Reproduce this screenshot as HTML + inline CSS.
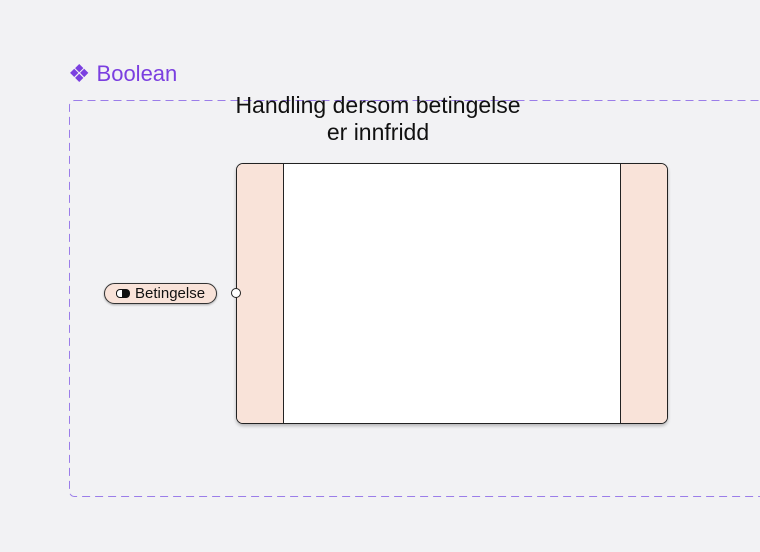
<!DOCTYPE html>
<html><head><meta charset="utf-8"><style>
body{margin:0;width:760px;height:552px;background:#f2f2f4;position:relative;overflow:hidden;font-family:"Liberation Sans",sans-serif}
.a{position:absolute}
</style></head><body>
<div class="a" style="left:68px;top:58px;font-size:22px;color:#7b3fe0;white-space:nowrap"><span style="font-size:25px;position:relative;top:1px">❖</span> Boolean</div>
<svg class="a" style="left:0;top:0" width="760" height="552"><rect x="69.5" y="100.5" width="740" height="396" rx="5" fill="none" stroke="#9b7de9" stroke-width="1" stroke-dasharray="8,5"/></svg>
<div class="a" style="left:178px;top:92px;width:400px;text-align:center;font-size:23px;line-height:27px;color:#111">Handling dersom betingelse<br>er innfridd</div>
<div class="a" style="left:236px;top:163px;width:430px;height:259px;border:1px solid #222;border-radius:7px;background:#fff;box-shadow:0 2px 3px rgba(0,0,0,.25);overflow:hidden">
<div class="a" style="left:0;top:0;width:46px;height:100%;background:#f9e3d9;border-right:1px solid #222"></div>
<div class="a" style="right:0;top:0;width:46px;height:100%;background:#f9e3d9;border-left:1px solid #222"></div>
</div>
<div class="a" style="left:104px;top:283px;width:111px;height:19px;border:1px solid #333;border-radius:11px;background:#f9e3d9;box-shadow:0 1px 2px rgba(0,0,0,.3);font-size:15px;line-height:19px;color:#111">
<span class="a" style="left:11px;top:5px;width:12px;height:7px;border:1px solid #111;border-radius:4px;background:linear-gradient(90deg,#fff 40%,#111 40%)"></span>
<span class="a" style="left:30px;top:0">Betingelse</span></div>
<div class="a" style="left:231px;top:288px;width:8px;height:8px;border:1px solid #222;border-radius:50%;background:#fff"></div>
</body></html>
